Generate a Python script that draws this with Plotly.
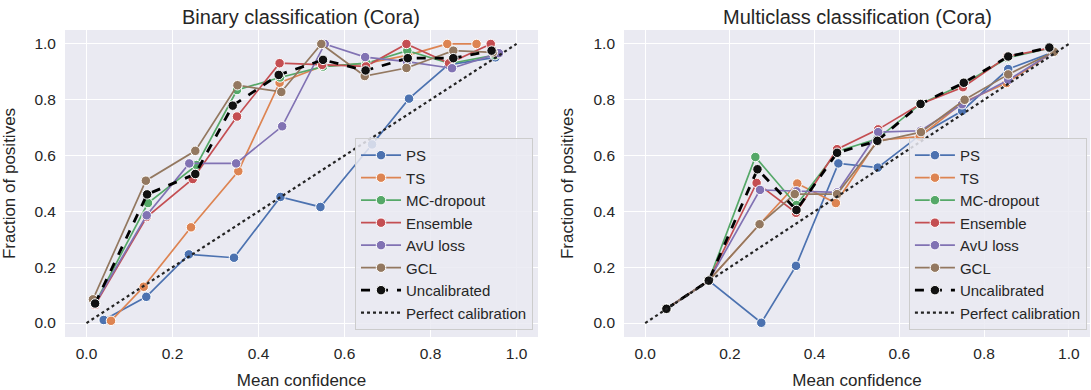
import plotly.graph_objects as go
from plotly.subplots import make_subplots

names = ["PS", "TS", "MC-dropout", "Ensemble", "AvU loss", "GCL"]
colors = ["#4C72B0", "#DD8452", "#55A868", "#C44E52", "#8172B3", "#937860"]

# Binary classification (Cora)
bin_ps_x = [0.040, 0.139, 0.238, 0.343, 0.451, 0.544, 0.664, 0.750, 0.841, 0.951]
bin_ps_y = [0.011, 0.094, 0.246, 0.234, 0.452, 0.416, 0.640, 0.804, 0.925, 0.952]
bin_ts_x = [0.057, 0.133, 0.243, 0.353, 0.449, 0.548, 0.650, 0.748, 0.839, 0.907]
bin_ts_y = [0.008, 0.130, 0.343, 0.544, 0.861, 0.920, 0.930, 0.960, 1.000, 1.000]
bin_mc_x = [0.020, 0.143, 0.256, 0.350, 0.450, 0.550, 0.651, 0.746, 0.845, 0.950]
bin_mc_y = [0.070, 0.430, 0.566, 0.835, 0.880, 0.919, 0.931, 0.976, 0.930, 0.960]
bin_en_x = [0.020, 0.140, 0.247, 0.350, 0.449, 0.548, 0.650, 0.744, 0.843, 0.940]
bin_en_y = [0.065, 0.380, 0.516, 0.740, 0.931, 0.925, 0.920, 1.000, 0.931, 1.000]
bin_avu_x = [0.020, 0.140, 0.239, 0.348, 0.455, 0.554, 0.648, 0.745, 0.850, 0.959]
bin_avu_y = [0.070, 0.386, 0.572, 0.572, 0.705, 1.000, 0.953, 0.937, 0.913, 0.967]
bin_gcl_x = [0.015, 0.138, 0.253, 0.351, 0.453, 0.546, 0.647, 0.744, 0.853, 0.945]
bin_gcl_y = [0.085, 0.510, 0.617, 0.852, 0.828, 1.000, 0.885, 0.914, 0.976, 0.970]
bin_unc_x = [0.020, 0.141, 0.253, 0.340, 0.447, 0.550, 0.649, 0.747, 0.853, 0.942]
bin_unc_y = [0.070, 0.461, 0.534, 0.779, 0.889, 0.943, 0.905, 0.949, 0.949, 0.976]

# Multiclass classification (Cora)
mul_ps_x = [0.050, 0.150, 0.274, 0.356, 0.456, 0.549, 0.650, 0.748, 0.857, 0.962]
mul_ps_y = [0.051, 0.152, 0.001, 0.205, 0.572, 0.557, 0.675, 0.760, 0.910, 0.970]
mul_ts_x = [0.050, 0.150, 0.270, 0.359, 0.450, 0.548, 0.648, 0.750, 0.853, 0.962]
mul_ts_y = [0.051, 0.152, 0.354, 0.500, 0.430, 0.655, 0.668, 0.790, 0.860, 0.970]
mul_mc_x = [0.050, 0.150, 0.260, 0.357, 0.453, 0.548, 0.650, 0.750, 0.855, 0.955]
mul_mc_y = [0.051, 0.152, 0.595, 0.423, 0.615, 0.660, 0.785, 0.855, 0.950, 0.985]
mul_en_x = [0.050, 0.150, 0.263, 0.356, 0.453, 0.550, 0.650, 0.750, 0.855, 0.955]
mul_en_y = [0.051, 0.152, 0.502, 0.395, 0.623, 0.694, 0.785, 0.845, 0.955, 0.985]
mul_avu_x = [0.050, 0.150, 0.271, 0.357, 0.453, 0.550, 0.650, 0.748, 0.857, 0.962]
mul_avu_y = [0.051, 0.152, 0.477, 0.472, 0.468, 0.684, 0.689, 0.784, 0.871, 0.970]
mul_gcl_x = [0.050, 0.150, 0.270, 0.353, 0.453, 0.548, 0.651, 0.754, 0.857, 0.965]
mul_gcl_y = [0.051, 0.152, 0.354, 0.462, 0.462, 0.650, 0.684, 0.800, 0.891, 0.972]
mul_unc_x = [0.050, 0.150, 0.265, 0.357, 0.453, 0.548, 0.650, 0.752, 0.857, 0.954]
mul_unc_y = [0.051, 0.152, 0.551, 0.405, 0.610, 0.653, 0.785, 0.861, 0.955, 0.987]

perfect_x = [0.0, 1.0]
perfect_y = [0.0, 1.0]

titles = ["Binary classification (Cora)", "Multiclass classification (Cora)"]
x_ticks = [0.0, 0.2, 0.4, 0.6, 0.8, 1.0]
y_ticks = [0.0, 0.2, 0.4, 0.6, 0.8, 1.0]

panels = [
    [(bin_ps_x, bin_ps_y), (bin_ts_x, bin_ts_y), (bin_mc_x, bin_mc_y),
     (bin_en_x, bin_en_y), (bin_avu_x, bin_avu_y), (bin_gcl_x, bin_gcl_y),
     (bin_unc_x, bin_unc_y)],
    [(mul_ps_x, mul_ps_y), (mul_ts_x, mul_ts_y), (mul_mc_x, mul_mc_y),
     (mul_en_x, mul_en_y), (mul_avu_x, mul_avu_y), (mul_gcl_x, mul_gcl_y),
     (mul_unc_x, mul_unc_y)],
]

FONT = "Liberation Sans, Arial, sans-serif"
TXT = "#262626"
BG = "#EAEAF2"

fig = make_subplots(rows=1, cols=2, horizontal_spacing=0.0)

for p, series in enumerate(panels):
    col = p + 1
    leg = "legend" if p == 0 else "legend2"
    for i, (xs, ys) in enumerate(series[:6]):
        fig.add_trace(go.Scatter(
            x=xs, y=ys, mode="lines+markers", name=names[i],
            line=dict(color=colors[i], width=1.7),
            marker=dict(color=colors[i], size=9.5, line=dict(color="white", width=1)),
            legend=leg), row=1, col=col)
    xs, ys = series[6]
    fig.add_trace(go.Scatter(
        x=xs, y=ys, mode="lines+markers", name="Uncalibrated",
        line=dict(color="black", width=2.8, dash="dash"),
        marker=dict(color="#111111", size=9.5, line=dict(color="white", width=1)),
        legend=leg), row=1, col=col)
    fig.add_trace(go.Scatter(
        x=perfect_x, y=perfect_y, mode="lines", name="Perfect calibration",
        line=dict(color="#222222", width=2.2, dash="dot"),
        legend=leg), row=1, col=col)

ax_common = dict(range=[-0.05, 1.05], showgrid=True, gridcolor="white", gridwidth=1.3,
                 zeroline=False, showline=False, ticks="", automargin=False,
                 tickfont=dict(size=15.5, color=TXT, family=FONT),
                 tickformat=".1f", tickvals=x_ticks)

fig.update_xaxes(**ax_common, ticklabelstandoff=5)
fig.update_yaxes(**ax_common, ticklabelstandoff=8)
fig.update_xaxes(domain=[0.0, 0.4615], row=1, col=1)
fig.update_xaxes(domain=[0.5454, 1.0], row=1, col=2)
for c in (1, 2):
    fig.update_xaxes(title=dict(text="Mean confidence", font=dict(size=17, color=TXT, family=FONT)), row=1, col=c)
    fig.update_yaxes(title=dict(text="Fraction of positives", font=dict(size=17, color=TXT, family=FONT)), row=1, col=c)

legend_style = dict(bgcolor="rgba(234,234,242,0.85)", bordercolor="#CCCCCC", borderwidth=1,
                    font=dict(size=15, color=TXT, family=FONT), yanchor="bottom", xanchor="right",
                    tracegroupgap=0, itemwidth=40)

fig.update_layout(
    width=1091, height=390,
    margin=dict(l=65, r=1, t=30, b=53, autoexpand=False),
    paper_bgcolor="white", plot_bgcolor=BG,
    font=dict(family=FONT, color=TXT),
    legend=dict(x=0.4566, y=0.023, **legend_style),
    legend2=dict(x=0.997, y=0.023, **legend_style),
    annotations=[
        dict(text=titles[0], x=0.2307, y=1.0, xref="paper", yref="paper", xanchor="center",
             yanchor="bottom", yshift=0, showarrow=False, font=dict(size=20, color=TXT, family=FONT)),
        dict(text=titles[1], x=0.7727, y=1.0, xref="paper", yref="paper", xanchor="center",
             yanchor="bottom", yshift=0, showarrow=False, font=dict(size=20, color=TXT, family=FONT)),
    ],
)

fig.write_html("out.html", config={"displayModeBar": False},
               post_script="document.body.style.margin='0';document.body.style.padding='0';")
